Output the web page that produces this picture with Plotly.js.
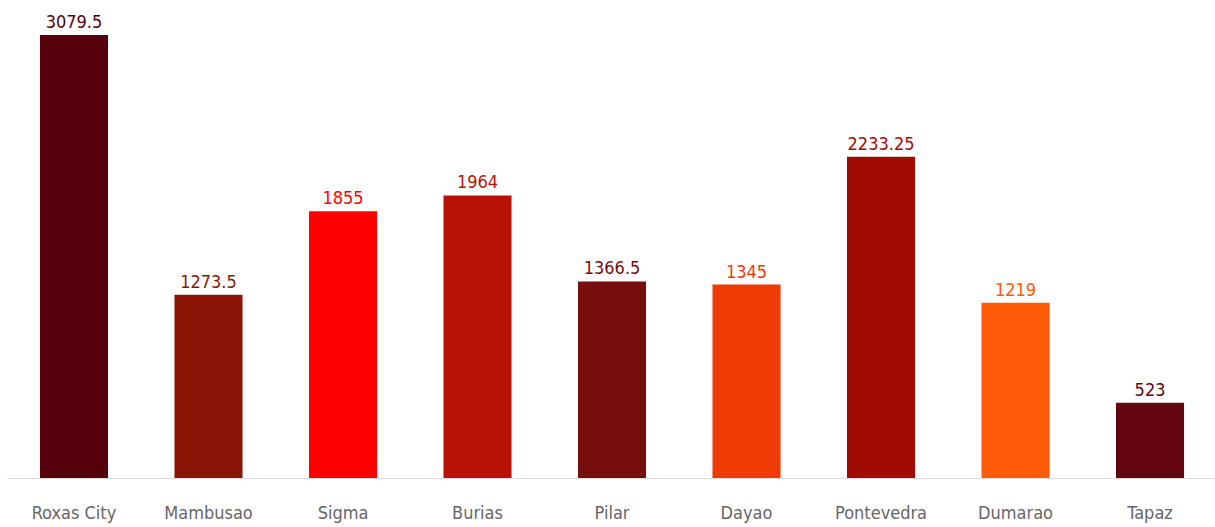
<!DOCTYPE html>
<html><head><meta charset="utf-8">
<script src="https://cdn.plot.ly/plotly-3.0.1.min.js"></script>
<style>body{margin:0;padding:0;}#chart{width:1215px;height:527px;}</style>
</head><body><div id="chart"></div>
<script>
const categories = ["Roxas City","Mambusao","Sigma","Burias","Pilar","Dayao","Pontevedra","Dumarao","Tapaz"];
const values = [3079.5,1273.5,1855,1964,1366.5,1345,2233.25,1219,523];
const labels = ["3079.5","1273.5","1855","1964","1366.5","1345","2233.25","1219","523"];
const colors = ["#55000A","#8A1507","#FF0000","#B81206","#750E0C","#EE3A04","#A00C04","#FF5A08","#64060F"];
const FONT = "'DejaVu Sans Condensed', 'Liberation Sans Narrow', sans-serif";
Plotly.newPlot('chart', [{
  type:'bar', x:categories, y:values, text:labels, textposition:'outside',
  marker:{color:colors}, cliponaxis:false,
  textfont:{family:FONT, size:18, color:colors},
  hoverinfo:'none'
}], {
  width:1215, height:527,
  margin:{l:7,r:0,t:0,b:49},
  bargap:0.494,
  paper_bgcolor:'#fff', plot_bgcolor:'#fff',
  showlegend:false,
  xaxis:{range:[-0.498,8.483], showline:true, linecolor:'#dddddd', linewidth:1, ticks:'', ticklabelstandoff:18,
         tickfont:{family:FONT, size:18, color:'#666666'}, fixedrange:true},
  yaxis:{range:[0,3323], visible:false, showgrid:false, zeroline:false, fixedrange:true}
}, {displayModeBar:false, staticPlot:true});
</script></body></html>
